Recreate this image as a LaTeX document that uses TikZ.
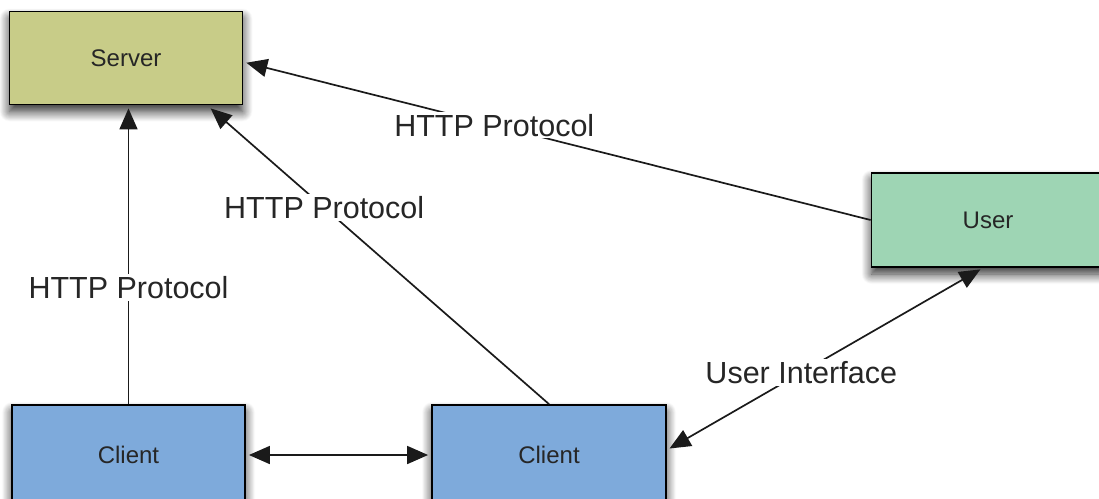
\documentclass[tikz,border=0pt]{standalone}
\usepackage{fontspec}
\setmainfont{Liberation Sans}
\usetikzlibrary{arrows.meta,shadows.blur,calc}
\definecolor{serverfill}{HTML}{C8CC88}
\definecolor{userfill}{HTML}{9ED5B4}
\definecolor{clientfill}{HTML}{7EAADB}
\definecolor{wire}{HTML}{1A1A1A}
\tikzset{
  box/.style={draw=black, line width=1.8pt, minimum width=233pt, minimum height=93pt,
    font=\fontsize{24}{28}\selectfont, text=black!85,
    blur shadow={shadow xshift=0pt, shadow yshift=-7pt, shadow blur steps=14, shadow blur radius=10pt, shadow opacity=85}},
  link/.style={draw=wire, line width=1.7pt, -{Triangle[length=21pt,width=18pt]}, shorten >=3pt},
  twolink/.style={draw=wire, line width=1.7pt, {Triangle[length=21pt,width=18pt]}-{Triangle[length=21pt,width=18pt]}, shorten >=3pt, shorten <=3pt},
  tag/.style={fill=white, inner sep=2pt, font=\fontsize{30.5}{34}\selectfont, text=black!85},
}
\begin{document}
\begin{tikzpicture}[x=1pt,y=-1pt]
  \useasboundingbox (0,0) rectangle (1099,498);
  % boxes
  \node[box, fill=serverfill] (server) at (126,58) {Server};
  \node[box, fill=userfill, minimum height=94pt] (user) at (988,220) {User};
  \node[box, fill=clientfill, minimum height=100pt] (c1) at (128.5,455) {Client};
  \node[box, fill=clientfill, minimum width=234pt, minimum height=100pt] (c2) at (549,455) {Client};
  % connector end points on the box borders
  \coordinate (s2) at ([xshift=-35pt,yshift=-1pt]server.south east);
  \coordinate (ub) at ([xshift=-5pt]user.south);
  \coordinate (c2r) at ([yshift=5pt]c2.east);
  % connectors
  \draw[link] (c1.north) -- (c1.north |- server.south)
    node[tag, pos=0.39] {HTTP Protocol};
  \draw[link] (c2.north) -- (s2)
    node[tag, pos=0.66] {HTTP Protocol};
  \draw[link] (user.west) -- ([yshift=-4pt]server.east)
    node[tag, pos=0.6] {HTTP Protocol};
  \draw[twolink] (c2r) -- (ub)
    node[tag, pos=0.425] {User Interface};
  \draw[twolink] (c1.east) -- (c2.west);
\end{tikzpicture}
\end{document}
